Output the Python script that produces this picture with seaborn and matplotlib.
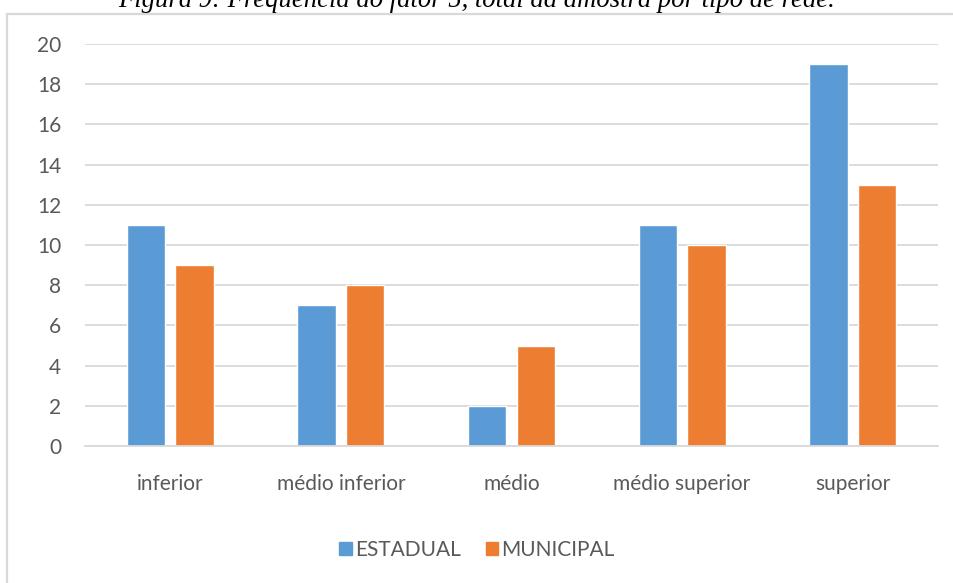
import matplotlib
matplotlib.use("Agg")
import matplotlib.pyplot as plt
import matplotlib.patches as mpatches
import pandas as pd
import seaborn as sns

categories = ["inferior", "médio inferior", "médio", "médio superior", "superior"]
estadual = [11, 7, 2, 11, 19]
municipal = [9, 8, 5, 10, 13]
series_names = ["ESTADUAL", "MUNICIPAL"]
colors = ["#5B9BD5", "#ED7D31"]
yticks = [0, 2, 4, 6, 8, 10, 12, 14, 16, 18, 20]
title = "Figura 9: Frequência do fator 5, total da amostra por tipo de rede."

df = pd.DataFrame({
    "categoria": categories * 2,
    "rede": [series_names[0]] * len(categories) + [series_names[1]] * len(categories),
    "valor": estadual + municipal,
})

sns.set_style("white")
plt.rcParams["font.family"] = ["Lato", "DejaVu Sans"]

W, H = 954, 583
fig = plt.figure(figsize=(W / 100, H / 100), dpi=100)

# outer chart frame (light gray), runs off the bottom/right of the picture
frame = mpatches.Rectangle((7 / W, -0.05), 1.1, 1 - 13.5 / H + 0.05,
                           transform=fig.transFigure, fill=False,
                           edgecolor="#d9d9d9", linewidth=1.6, zorder=0)
fig.patches.append(frame)

ax = fig.add_axes([85 / W, 1 - 446 / H, (938 - 85) / W, (446 - 44) / H])
sns.barplot(data=df, x="categoria", y="valor", hue="rede", palette=colors,
            width=0.57, gap=0.21, saturation=1, ax=ax, legend=False)

ax.set_ylim(0, 20)
ax.set_yticks(yticks)
ax.set_xlim(-0.5, len(categories) - 0.5)
ax.grid(axis="y", color="#d9d9d9", linewidth=1.3)
ax.set_axisbelow(True)
for side in ["top", "right", "left"]:
    ax.spines[side].set_visible(False)
ax.spines["bottom"].set_color("#d9d9d9")
ax.spines["bottom"].set_linewidth(1.3)
ax.tick_params(axis="both", length=0, colors="#595959", labelsize=15)
ax.tick_params(axis="y", pad=17)
ax.tick_params(axis="x", pad=20)
ax.set_xlabel("")
ax.set_ylabel("")

handles = [mpatches.Patch(color=c, label=n) for c, n in zip(colors, series_names)]
fig.legend(handles=handles, loc="center", bbox_to_anchor=(477 / W, 1 - 550 / H),
           ncol=2, frameon=False, fontsize=15, handlelength=0.6, handleheight=0.6,
           handletextpad=0.15, columnspacing=1.2, labelcolor="#595959")

fig.text(477 / W, 1 - 7 / H, title, ha="center", va="baseline",
         family=["Liberation Serif", "DejaVu Serif"], style="italic",
         fontsize=19.2, color="black")

fig.savefig("out.png", dpi=100)
